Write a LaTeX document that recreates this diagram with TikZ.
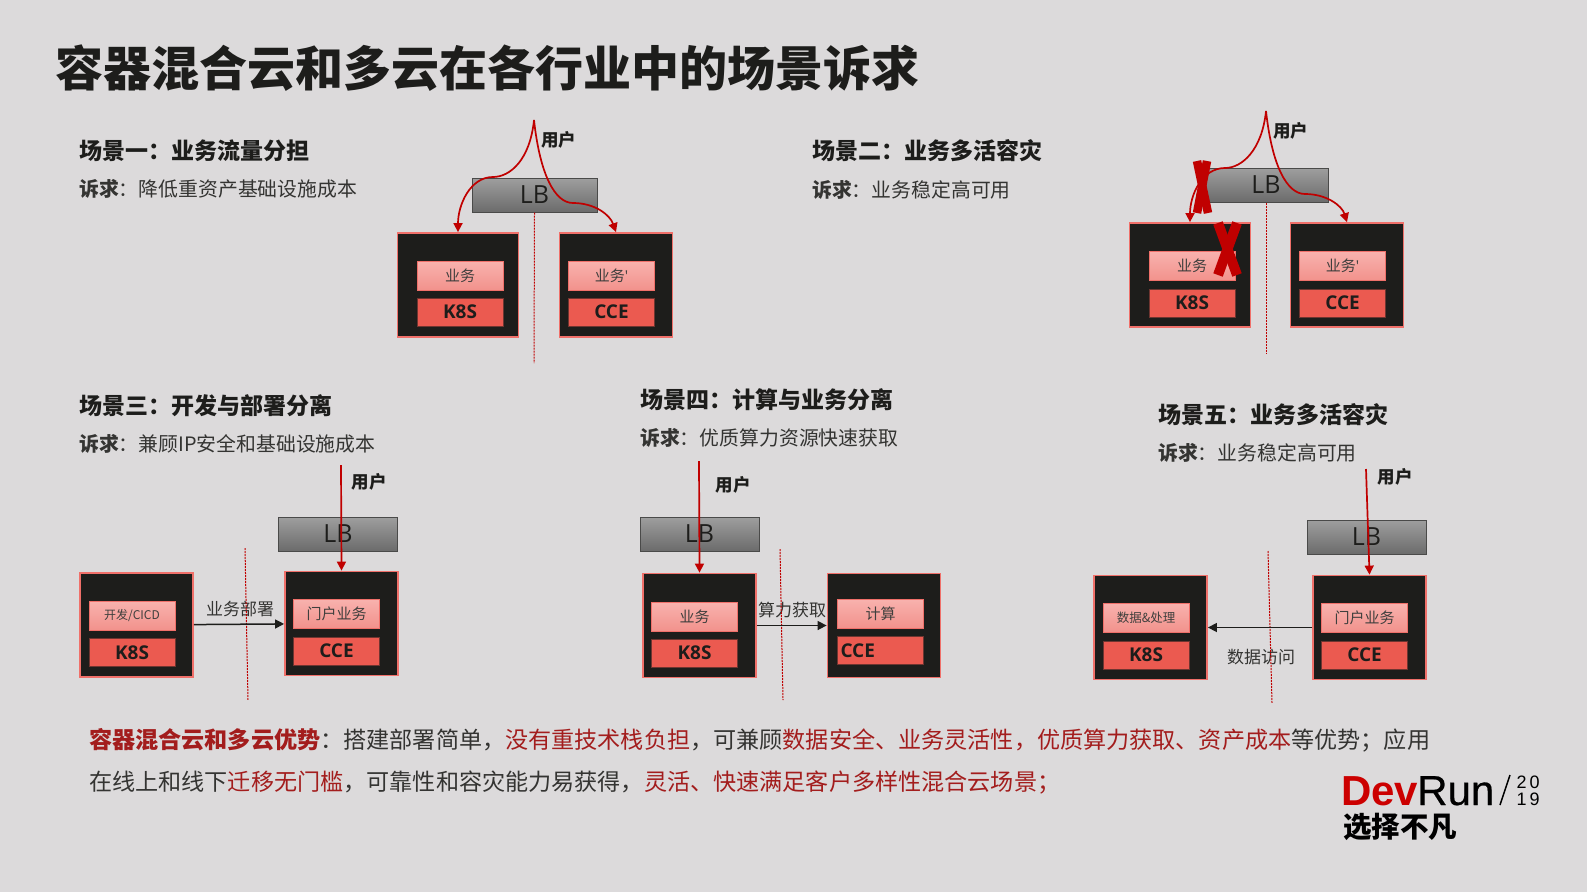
\documentclass[tikz,border=0pt]{standalone}
\usepackage{fontspec}
\setmainfont{Noto Sans CJK SC}
\newfontfamily\latinfont{Open Sans}
\newfontfamily\logofont{Liberation Sans}
\newfontfamily\runfont[FakeBold=0.5]{Liberation Sans}
\usetikzlibrary{arrows.meta}
\definecolor{bgcol}{HTML}{DCDADB}
\definecolor{inkcol}{HTML}{1D1D1B}
\definecolor{boxedge}{HTML}{F0706A}
\definecolor{redcol}{HTML}{C00000}
\definecolor{darkred}{HTML}{A31D1D}
\definecolor{cloudcol}{HTML}{EB5A50}
\definecolor{apptop}{HTML}{F8B2AE}
\definecolor{appbot}{HTML}{F2928C}
\tikzset{
  title/.style={anchor=west,inner sep=0pt,text=inkcol,font=\fontsize{48}{48}\selectfont\bfseries},
  head/.style={anchor=west,inner sep=0pt,text=inkcol,font=\fontsize{23}{23}\selectfont\bfseries},
  sub/.style={anchor=west,inner sep=0pt,text=inkcol!90,font=\fontsize{19.85}{20}\selectfont},
  para/.style={anchor=west,inner sep=0pt,text=inkcol!90,font=\fontsize{23.12}{23}\selectfont},
  user/.style={inner sep=0pt,text=inkcol,font=\fontsize{17.5}{17.5}\selectfont\bfseries},
  edge/.style={inner sep=0pt,text=inkcol!90,font=\fontsize{17}{17}\selectfont},
  lbbox/.style={draw=inkcol!80,line width=1pt,top color=black!38,bottom color=black!58,text=inkcol,
    minimum width=119pt,minimum height=34pt,inner sep=0pt,font=\latinfont\fontsize{25}{25}\selectfont},
  hostbox/.style={draw=boxedge,line width=1.8pt,fill=inkcol,minimum width=113pt,minimum height=104pt,inner sep=0pt},
  appbox/.style={draw=boxedge,line width=1pt,top color=apptop,bottom color=appbot,text=inkcol!85,
    minimum width=86pt,minimum height=29pt,inner sep=0pt,font=\fontsize{15}{15}\selectfont},
  cloudbox/.style={draw=inkcol!60!cloudcol,line width=.7pt,fill=cloudcol,text=inkcol,
    minimum width=86pt,minimum height=28pt,inner sep=0pt,font=\latinfont\fontsize{19}{19}\selectfont\bfseries},
  userarrow/.style={draw=redcol,line width=1.7pt,->},
  linkarrow/.style={draw=inkcol,line width=1.5pt,->},
  border/.style={draw=redcol,line width=1pt,dash pattern=on 2pt off 1pt},
  cross/.style={draw=redcol,line width=8.5pt},
}
\begin{document}
\begin{tikzpicture}[x=1pt,y=-1pt,>={Triangle[length=9pt,width=9pt]}]
\fill[bgcol](0,0)rectangle(1587,892);
\useasboundingbox(0,0)rectangle(1587,892);
\node[title] (title) at (55.5,68) {容器混合云和多云在各行业中的场景诉求};
% scene one
\node[head] (head1) at (79,151) {场景一：业务流量分担};
\node[sub] (sub1) at (79,189) {\textbf{诉求}：降低重资产基础设施成本};
\node[lbbox,minimum width=125pt] (lb1) at (534.5,195) {LB};
\node[hostbox,minimum width=121pt] (host1a) at (458,285) {};
\node[hostbox] (host1b) at (616,285) {};
\node[appbox] (app1a) at (460,275.5) {业务};
\node[cloudbox] (cloud1a) at (460,312) {K8S};
\node[appbox] (app1b) at (611.5,275.5) {业务{\latinfont'}};
\node[cloudbox] (cloud1b) at (611.5,312) {CCE};
\coordinate (user1) at (534,120);
\coordinate (end1) at (534,363);
\node[user,anchor=west] (label1) at (541,140) {用户};
\draw[border] (lb1.south) -- (end1);
\draw[userarrow] (user1) .. controls (530,160) and (510,177) .. (493,177) .. controls (470,177) and (458,205) .. (host1a.north);
\draw[userarrow] (user1) .. controls (540,175) and (555,203) .. (573,203) .. controls (595,203) and (610,215) .. (host1b.north);
% scene two
\node[head] (head2) at (812,151) {场景二：业务多活容灾};
\node[sub] (sub2) at (812,190) {\textbf{诉求}：业务稳定高可用};
\node[lbbox,minimum width=125pt] (lb2) at (1266,185) {LB};
\node[hostbox,minimum width=121pt] (host2a) at (1190,275) {};
\node[hostbox] (host2b) at (1347,275) {};
\node[appbox] (app2a) at (1192,266) {业务};
\node[cloudbox] (cloud2a) at (1192,303) {K8S};
\node[appbox] (app2b) at (1342.5,266) {业务{\latinfont'}};
\node[cloudbox] (cloud2b) at (1342.5,303) {CCE};
\coordinate (user2) at (1266,111);
\coordinate (end2) at (1266,354);
\node[user,anchor=west] (label2) at (1273,131) {用户};
\draw[border] (lb2.south) -- (end2);
\draw[userarrow] (user2) .. controls (1262,150) and (1242,168) .. (1225,168) .. controls (1202,168) and (1190,195) .. (host2a.north);
\draw[userarrow] (user2) .. controls (1272,166) and (1287,194) .. (1305,194) .. controls (1327,194) and (1342,206) .. (host2b.north);
\draw[cross] (1197,161) -- (1208,213);
\draw[cross] (1207,161) -- (1197,213);
\draw[cross,line width=10pt] (1218,223) -- (1237,275);
\draw[cross,line width=10pt] (1237,223) -- (1218,275);
% scene three
\node[head] (head3) at (79,406) {场景三：开发与部署分离};
\node[sub] (sub3) at (79,444) {\textbf{诉求}：兼顾IP安全和基础设施成本};
\node[lbbox] (lb3) at (338,534) {LB};
\node[hostbox] (host3a) at (136.5,625) {};
\node[hostbox] (host3b) at (341.5,623.5) {};
\node[appbox,font=\fontsize{12}{12}\selectfont] (app3a) at (132,615.5) {开发/CICD};
\node[cloudbox] (cloud3a) at (132,652.5) {K8S};
\node[appbox] (app3b) at (336.5,613.5) {门户业务};
\node[cloudbox] (cloud3b) at (336.5,651) {CCE};
\coordinate (user3) at (341,465);
\coordinate (top3) at (245,548);
\coordinate (end3) at (248,700);
\node[user] (label3) at (369,482) {用户};
\node[edge] (edge3) at (240,609) {业务部署};
\draw[border] (top3) -- (end3);
\draw[userarrow] (user3) -- (host3b.north);
\draw[linkarrow] (host3a) -- (host3b);
% scene four
\node[head] (head4) at (640,400) {场景四：计算与业务分离};
\node[sub] (sub4) at (640,438) {\textbf{诉求}：优质算力资源快速获取};
\node[lbbox] (lb4) at (699.5,534) {LB};
\node[hostbox] (host4a) at (699.5,625.5) {};
\node[hostbox] (host4b) at (884,625.5) {};
\node[appbox] (app4a) at (694.5,616.5) {业务};
\node[cloudbox] (cloud4a) at (694.5,653) {K8S};
\node[appbox] (app4b) at (880.5,613.5) {计算};
\node[cloudbox,text width=80pt,align=left] (cloud4b) at (880.5,650.5) {CCE};
\coordinate (user4) at (699,461);
\coordinate (top4) at (780,549);
\coordinate (end4) at (783,700);
\node[user] (label4) at (733,485) {用户};
\node[edge] (edge4) at (792,610) {算力获取};
\draw[border] (top4) -- (end4);
\draw[userarrow] (user4) -- (host4a.north);
\draw[linkarrow] (host4a) -- (host4b);
% scene five
\node[head] (head5) at (1158,415) {场景五：业务多活容灾};
\node[sub] (sub5) at (1158,453) {\textbf{诉求}：业务稳定高可用};
\node[lbbox] (lb5) at (1366.5,537) {LB};
\node[hostbox] (host5a) at (1150.5,627.5) {};
\node[hostbox] (host5b) at (1369.5,627.5) {};
\node[appbox,font=\fontsize{12.5}{12.5}\selectfont] (app5a) at (1146,617.5) {数据\&处理};
\node[cloudbox] (cloud5a) at (1146,655) {K8S};
\node[appbox] (app5b) at (1364.5,617.5) {门户业务};
\node[cloudbox] (cloud5b) at (1364.5,655) {CCE};
\coordinate (user5) at (1366,469);
\coordinate (top5) at (1268,551);
\coordinate (end5) at (1272,703);
\node[user] (label5) at (1395,477) {用户};
\node[edge] (edge5) at (1261,657) {数据访问};
\draw[border] (top5) -- (end5);
\draw[userarrow] (user5) -- (host5b.north);
\draw[linkarrow] (host5b) -- (host5a);
% summary
\node[para] (line1) at (89,740) {\textcolor{darkred}{\textbf{容器混合云和多云优势}}：搭建部署简单，\textcolor{darkred}{没有重技术栈负担}，可兼顾\textcolor{darkred}{数据安全、业务灵活性，优质算力获取、资产成本}等优势；应用};
\node[para] (line2) at (89,783) {在线上和线下\textcolor{darkred}{迁移无门槛}，可靠性和容灾能力易获得，\textcolor{darkred}{灵活、快速满足客户多样性混合云场景；}};
% logo
\node[anchor=base west,inner sep=0pt,text=black,font=\fontsize{42}{42}\selectfont] (logo) at (1341,805) {\textcolor{red!80!black}{\logofont\bfseries Dev}\kern-1pt{\runfont Run}};
\coordinate (slash1) at (1510,775);
\coordinate (slash2) at (1500,805);
\draw[black,line width=1.5pt] (slash1) -- (slash2);
\node[inner sep=0pt,font=\logofont\fontsize{18}{18}\selectfont] (year1) at (1528,782) {2\kern3pt 0};
\node[inner sep=0pt,font=\logofont\fontsize{18}{18}\selectfont] (year2) at (1528,799) {1\kern3pt 9};
\node[anchor=west,inner sep=0pt,text=black,font=\fontsize{28.5}{28.5}\selectfont\bfseries] (slogan) at (1343,827) {选择不凡};
\end{tikzpicture}
\end{document}
